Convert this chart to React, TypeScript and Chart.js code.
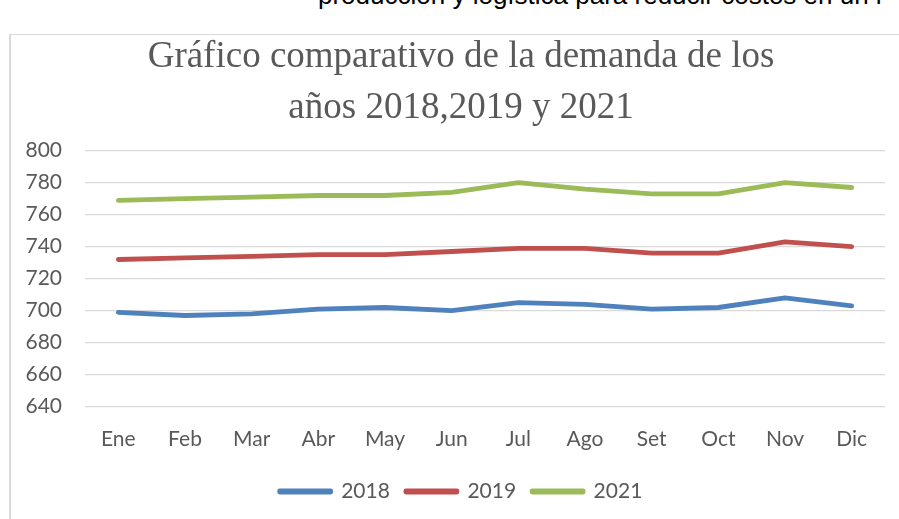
import React, { useEffect, useRef } from "react";
import { Chart, registerables } from "chart.js";

Chart.register(...registerables);

const months = ["Ene", "Feb", "Mar", "Abr", "May", "Jun", "Jul", "Ago", "Set", "Oct", "Nov", "Dic"];
const demand2018 = [699, 697, 698, 701, 702, 700, 705, 704, 701, 702, 708, 703];
const demand2019 = [732, 733, 734, 735, 735, 737, 739, 739, 736, 736, 743, 740];
const demand2021 = [769, 770, 771, 772, 772, 774, 780, 776, 773, 773, 780, 777];
const seriesNames = ["2018", "2019", "2021"];
const titleLines = ["Gráfico comparativo de la demanda de los", "años 2018,2019 y 2021"];
const yMin = 640;
const yMax = 800;
const yStep = 20;
const topText = "producción y logística para reducir costos en un r";

const colors = ["#4F81BD", "#C0504D", "#9BBB59"];

export default function App() {
  const ref = useRef<HTMLCanvasElement>(null);

  useEffect(() => {
    if (!ref.current) return;
    const seriesData = [demand2018, demand2019, demand2021];
    const chart = new Chart(ref.current, {
      type: "line",
      data: {
        labels: months,
        datasets: seriesData.map((d, i) => ({
          label: seriesNames[i],
          data: d,
          borderColor: colors[i],
          backgroundColor: colors[i],
          borderWidth: 4.8,
          pointRadius: 0,
          tension: 0,
          borderCapStyle: "round" as const,
          borderJoinStyle: "round" as const,
          yAxisID: "y",
        })),
      },
      options: {
        responsive: false,
        animation: false,
        layout: { autoPadding: false, padding: { left: 10, right: 0, top: 0, bottom: 0 } },
        plugins: {
          title: {
            display: true,
            text: titleLines,
            color: "#595959",
            font: { family: "'Liberation Serif', serif", size: 37, weight: "normal", lineHeight: 51 / 37 },
            padding: { top: 12, bottom: 16.7 },
          },
          legend: {
            position: "bottom",
            labels: {
              boxWidth: 51,
              boxHeight: 1,
              padding: 16,
              color: "#595959",
              font: { family: "Lato", size: 21 },
            },
          },
          tooltip: { enabled: false },
        },
        scales: {
          x: {
            offset: true,
            afterFit: (s: any) => {
              s.height = 58.3;
            },
            grid: { display: false, drawTicks: false },
            border: { display: false },
            ticks: { color: "#595959", padding: 20.2, font: { family: "Lato", size: 21 } },
          },
          y: {
            position: "left",
            min: yMin,
            max: yMax,
            afterFit: (s: any) => {
              s.width = 64;
            },
            grid: { color: "#d9d9d9", lineWidth: 1.3, drawTicks: false },
            border: { display: false },
            ticks: { stepSize: yStep, color: "#595959", padding: 23, font: { family: "Lato", size: 21 } },
          },
          spacer: {
            type: "linear",
            position: "right",
            display: true,
            afterFit: (s: any) => {
              s.width = 16;
            },
            grid: { display: false, drawTicks: false },
            border: { display: false },
            ticks: { display: false },
          },
        },
      },
    });
    return () => chart.destroy();
  }, []);

  return (
    <div style={{ position: "fixed", left: 0, top: 0, width: 899, height: 519, overflow: "hidden", background: "#fff" }}>
      <div
        style={{
          position: "absolute",
          left: 318,
          top: -18,
          fontFamily: "'Liberation Sans', Arial, sans-serif",
          fontSize: 26,
          lineHeight: "26px",
          whiteSpace: "nowrap",
          color: "#000",
        }}
      >
        {topText}
      </div>
      <div
        style={{
          position: "absolute",
          left: 9,
          top: 34,
          width: 1000,
          height: 600,
          borderLeft: "2px solid #d9d9d9",
          borderTop: "1px solid #d9d9d9",
        }}
      />
      <canvas
        ref={ref}
        width={890}
        height={492}
        style={{ position: "absolute", left: 11, top: 20, width: 890, height: 492 }}
      />
    </div>
  );
}
